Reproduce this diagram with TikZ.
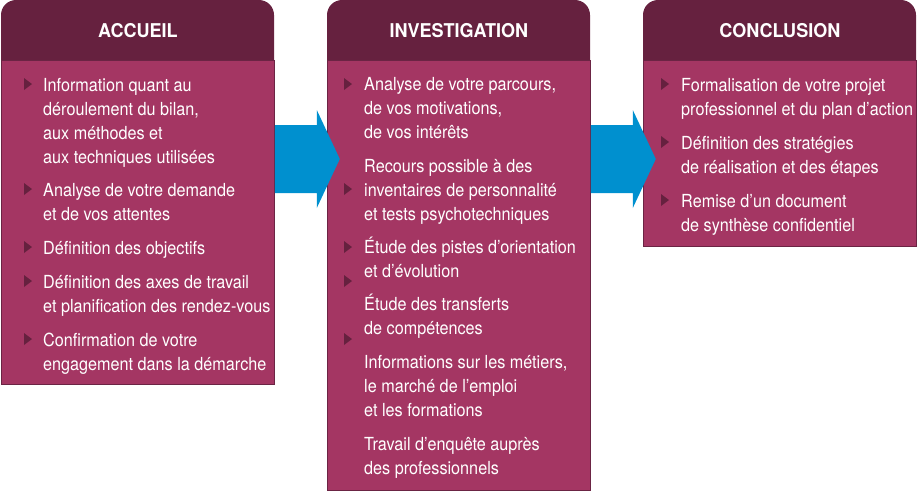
\documentclass[tikz,border=0pt]{standalone}
\usepackage{fontspec}
\setmainfont{TeX Gyre Heros}[FakeStretch=0.9]
\newfontfamily\headfont{TeX Gyre Heros}[FakeStretch=0.95]
\usepackage{tikz}

\definecolor{headc}{HTML}{66213F}
\definecolor{bodyc}{HTML}{A43663}
\definecolor{edgec}{HTML}{6B2444}
\definecolor{flowc}{HTML}{0090CF}

\begin{document}
\begin{tikzpicture}[x=1pt,y=-1pt,
  title/.style={text=white,font=\headfont\bfseries\fontsize{19}{22}\selectfont,inner sep=0pt},
  body/.style={fill=bodyc,draw=edgec,line width=0.8pt,anchor=north west,minimum width=273pt,inner sep=0pt},
  item/.style={text=white,font=\fontsize{18}{24}\selectfont,align=left,anchor=base west,inner sep=0pt},
  pointer/.style={fill=headc},
  flow/.style={fill=flowc}]
  \useasboundingbox (0,0) rectangle (918,491);
  % headers
  \fill[headc,rounded corners=15pt] (1,0) rectangle (274,75);
  \fill[headc,rounded corners=15pt] (327,0) rectangle (590,75);
  \fill[headc,rounded corners=15pt] (643,0) rectangle (916,75);
  % bodies
  \node[body,minimum height=324pt] (accbody) at (1,60) {};
  \node[body,minimum width=263pt,minimum height=430pt] (invbody) at (327,60) {};
  \node[body,minimum height=186pt] (conbody) at (643,60) {};
  \node[title] (accueil) at (accbody.north |- 0,31) {ACCUEIL};
  \node[title] (investigation) at (invbody.north |- 0,31) {INVESTIGATION};
  \node[title] (conclusion) at (conbody.north |- 0,31) {CONCLUSION};
  % arrows
  \foreach \b in {accbody,invbody}
    \fill[flow] (\b.north east) ++(0,65) -- ++(42,0) -- ++(0,-15) -- ++(23,49)
      -- ++(-23,49) -- ++(0,-15) -- ++(-42,0) -- cycle;
  % bullets
  \foreach \x/\y in {24/84,24/189,24/247,24/281,24/339,
                     344/84,344/189,344/247,344/281,344/339,
                     661/84,661/142,661/200}
    \fill[pointer] (\x,\y-6) -- ++(8,6) -- ++(-8,6) -- cycle;
  % accueil (placed at the baseline of the last line)
  \node[item] (acc1) at (43,163) {Information quant au\\déroulement du bilan,\\aux méthodes et\\aux techniques utilisées};
  \node[item] (acc2) at (43,220) {Analyse de votre demande\\et de vos attentes};
  \node[item] (acc3) at (43,254) {Définition des objectifs};
  \node[item] (acc4) at (43,312) {Définition des axes de travail\\et planification des rendez-vous};
  \node[item] (acc5) at (43,370) {Confirmation de votre\\engagement dans la démarche};
  % investigation
  \node[item] (inv1) at (364,138) {Analyse de votre parcours,\\de vos motivations,\\de vos intérêts};
  \node[item] (inv2) at (364,220) {Recours possible à des\\inventaires de personnalité\\et tests psychotechniques};
  \node[item] (inv3) at (364,277) {Étude des pistes d’orientation\\et d’évolution};
  \node[item] (inv4) at (364,334) {Étude des transferts\\de compétences};
  \node[item] (inv5) at (364,416) {Informations sur les métiers,\\le marché de l’emploi\\et les formations};
  \node[item] (inv6) at (364,474) {Travail d’enquête auprès\\des professionnels};
  % conclusion
  \node[item] (con1) at (681,115) {Formalisation de votre projet\\professionnel et du plan d’action};
  \node[item] (con2) at (681,173) {Définition des stratégies\\de réalisation et des étapes};
  \node[item] (con3) at (681,231) {Remise d’un document\\de synthèse confidentiel};
\end{tikzpicture}
\end{document}
